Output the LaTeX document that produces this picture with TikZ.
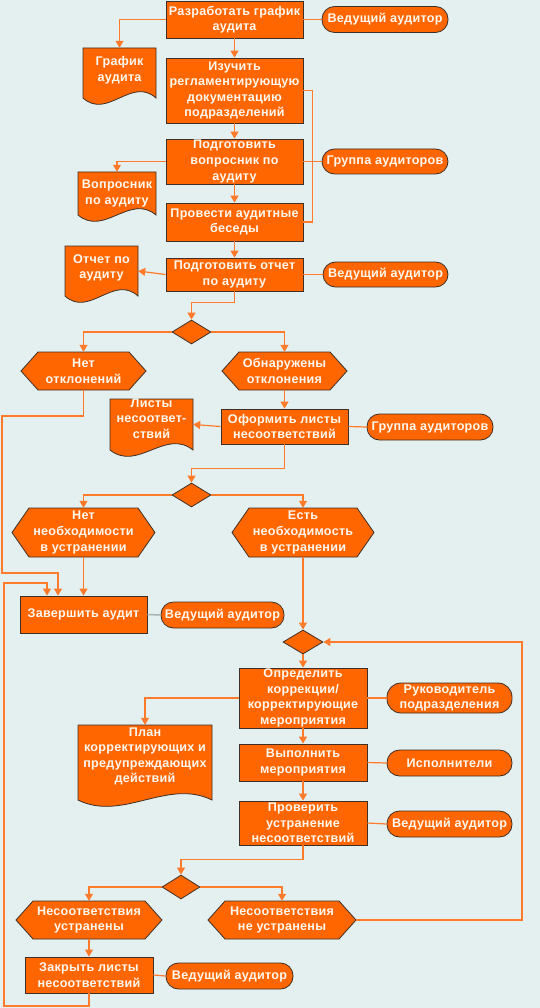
\documentclass[tikz,border=0pt]{standalone}
\usepackage{fontspec}
\setmainfont{Liberation Sans}[LetterSpace=2]
\usetikzlibrary{arrows.meta,shapes.geometric,calc}
\definecolor{bgcol}{HTML}{E4F0F0}
\definecolor{orfill}{HTML}{FF6600}
\definecolor{edgecol}{HTML}{3E3028}
\definecolor{linecol}{HTML}{FF7A2A}
\definecolor{graycol}{HTML}{A8B2B2}
\definecolor{txtcol}{HTML}{FFF8F0}
\tikzset{
  txt/.style={font=\fontsize{12.6}{15.6}\selectfont\bfseries, text=txtcol, align=center, inner sep=0pt},
  shapefill/.style={fill=orfill, draw=edgecol, line width=0.8pt},
  boxnode/.style={txt, shapefill, rectangle, minimum width=137pt},
  pill/.style={txt, shapefill, rectangle, rounded corners=12.5pt, minimum width=126pt, minimum height=26pt},
  dia/.style={shapefill, diamond, inner sep=0pt, minimum width=39pt, minimum height=24pt},
  ln/.style={draw=linecol, line width=1.2pt},
  arr/.style={ln, -{Triangle[width=8pt,length=7pt]}},
  grayln/.style={draw=graycol, line width=1.5pt}
}
\newcommand\hexnode[6]{%
  \fill[shapefill] ({#2-#4/2},#3) -- ({#2-#4/2+17},{#3-#5/2}) -- ({#2+#4/2-17},{#3-#5/2}) -- ({#2+#4/2},#3) -- ({#2+#4/2-17},{#3+#5/2}) -- ({#2-#4/2+17},{#3+#5/2}) -- cycle;
  \node[txt, minimum width=#4pt, minimum height=#5pt] (#1) at (#2,#3) {#6};}
\newcommand\docnode[7]{%
  \fill[shapefill] (#2,#3) -- (#4,#3) -- (#4,#5) .. controls ({#4-(#4-#2)/3},{#5-22}) and ({#2+(#4-#2)/3},{#5+22}) .. (#2,#5) -- cycle;
  \node[txt, minimum width={(#4-#2)*1pt}, minimum height={(#5-#3)*1pt}] (#1) at ({(#2+#4)/2},{(#3+#5)/2}) {};
  \node[txt] at ({(#2+#4)/2},{(#3+#5)/2+#7}) {#6};}
\begin{document}
\begin{tikzpicture}[x=1pt,y=-1pt]
\fill[bgcol] (0,0) rectangle (540,1008);
\useasboundingbox (0,0) rectangle (540,1008);

% top section
\node[boxnode, minimum height=37pt] (b1) at (234.5,19.5) {Разработать график\\аудита};
\node[pill] (p1) at (385,19.5) {Ведущий аудитор};
\docnode{d1}{83}{48}{156}{98}{График\\аудита}{-3}
\node[boxnode, minimum height=65pt] (b2) at (234.5,90.5) {Изучить\\регламентирующую\\документацию\\подразделений};
\node[boxnode, minimum height=45pt] (b3) at (234.5,161.5) {Подготовить\\вопросник по\\аудиту};
\node[boxnode, minimum height=38pt] (b4) at (234.5,222) {Провести аудитные\\беседы};
\node[pill, minimum height=25pt] (p2) at (385,161.5) {Группа аудиторов};
\docnode{d2}{78}{172}{156}{215}{Вопросник\\по аудиту}{0}
\node[boxnode, minimum height=33pt] (b5) at (234.5,274.5) {Подготовить отчет\\по аудиту};
\node[pill, minimum height=25pt, minimum width=125pt] (p3) at (385.5,274.5) {Ведущий аудитор};
\docnode{d3}{65}{246}{138}{296}{Отчет по\\аудиту}{-3}

\draw[ln] (b1.east) -- (p1.west);
\draw[arr] (b1.west) -| (d1.north);
\draw[arr] (b1.south) -- (b2.north);
\draw[arr] (b2.south) -- (b3.north);
\draw[arr] (b3.south) -- (b4.north);
\draw[ln] (b2.east) -- ++(9,0) |- (b4.east);
\draw[ln] (b3.east) -- (p2.west);
\draw[arr] (b3.west) -| (d2.north);
\draw[arr] (b4.south) -- (b5.north);
\draw[ln] (b5.east) -- (p3.west);
\draw[arr] (b5.west) -- (d3.east);

% first decision
\node[dia] (dm1) at (191.5,332) {};
\draw[arr] (b5.south) -- ++(0,11) -| (dm1.north);
\hexnode{h1}{83.5}{371}{125}{38}{Нет\\отклонений}
\hexnode{h2}{284.5}{371}{125}{38}{Обнаружены\\отклонения}
\draw[arr] (dm1.west) -| (h1.north);
\draw[arr] (dm1.east) -| (h2.north);

\node[boxnode, minimum width=127pt, minimum height=35pt] (b6) at (284.5,426.5) {Оформить листы\\несоответствий};
\node[pill] (p4) at (430,427) {Группа аудиторов};
\docnode{d4}{110}{399}{193}{450}{Листы\\несоответ-\\ствий}{-6}
\draw[arr] (h2.south) -- (b6.north);
\draw[arr] (b6.west) -- (d4.east);
\draw[ln] (b6.east) -- (p4.west);

% second decision
\node[dia] (dm2) at (191.5,495) {};
\draw[arr] (b6.south) -- ++(0,24) -| (dm2.north);
\hexnode{h3}{83.5}{532.5}{143}{49}{Нет\\необходимости\\в устранении}
\hexnode{h4}{303}{532.5}{142}{49}{Есть\\необходимость\\в устранении}
\draw[arr] (dm2.west) -| (h3.north);
\draw[arr] (dm2.east) -| (h4.north);

\node[boxnode, minimum width=127pt, minimum height=37pt] (b7) at (83.5,614.5) {Завершить аудит};
\node[pill, minimum width=123pt] (p5) at (222.5,615) {Ведущий аудитор};
\draw[grayln] (b7.east) -- (p5.west);
\draw[arr] (h3.south) -- (b7.north);

\coordinate (k1) at (2,416);
\coordinate (k2) at (2,573);
\coordinate (k3) at (58,573);
\draw[arr] (h1.south) |- (k1) -- (k2) -- (k3) -- (k3 |- b7.north);

% third decision
\node[dia, minimum width=40pt] (dm3) at (303,642) {};
\draw[arr] (h4.south) -- (dm3.north);
\node[boxnode, minimum width=128pt, minimum height=60pt] (b8) at (303,698) {Определить\\коррекции/\\корректирующие\\мероприятия};
\node[pill, minimum width=125pt, minimum height=30pt, rounded corners=14pt] (p6) at (449.5,698) {Руководитель\\подразделения};
\docnode{d5}{78}{725}{212}{800}{План\\корректирующих и\\предупреждающих\\действий}{-6}
\draw[arr] (dm3.south) -- (b8.north);
\draw[ln] (b8.east) -- (p6.west);
\draw[arr] (b8.west) -| (d5.north);

\node[boxnode, minimum width=128pt, minimum height=37pt] (b9) at (303,762.5) {Выполнить\\мероприятия};
\node[pill, minimum width=125pt] (p7) at (449.5,763) {Исполнители};
\draw[arr] (b8.south) -- (b9.north);
\draw[ln] (b9.east) -- (p7.west);

\node[boxnode, minimum width=128pt, minimum height=44pt] (b10) at (303,823) {Проверить\\устранение\\несоответствий};
\node[pill, minimum width=125pt] (p8) at (449.5,824) {Ведущий аудитор};
\draw[arr] (b9.south) -- (b10.north);
\draw[ln] (b10.east) -- (p8.west);

% fourth decision
\node[dia, minimum width=38pt] (dm4) at (181,887) {};
\draw[arr] (b10.south) -- ++(0,14) -| (dm4.north);
\hexnode{h5}{89}{920}{146}{38}{Несоответствия\\устранены}
\hexnode{h6}{282}{920}{148}{38}{Несоответствия\\не устранены}
\draw[arr] (dm4.west) -| (h5.north);
\draw[arr] (dm4.east) -| (h6.north);

\coordinate (r1) at (522,920);
\draw[arr] (h6.east) -- (r1) |- (dm3.east);

\node[boxnode, minimum width=128pt, minimum height=36pt] (b11) at (89,975) {Закрыть листы\\несоответствий};
\node[pill, minimum width=127pt] (p9) at (229.5,976) {Ведущий аудитор};
\draw[arr] (h5.south) -- (b11.north);
\draw[ln] (b11.east) -- (p9.west);

\coordinate (m1) at (4,1006);
\coordinate (m2) at (4,583);
\coordinate (m3) at (47,583);
\draw[arr] (b11.south) |- (m1) -- (m2) -- (m3) -- (m3 |- b7.north);
\end{tikzpicture}
\end{document}
